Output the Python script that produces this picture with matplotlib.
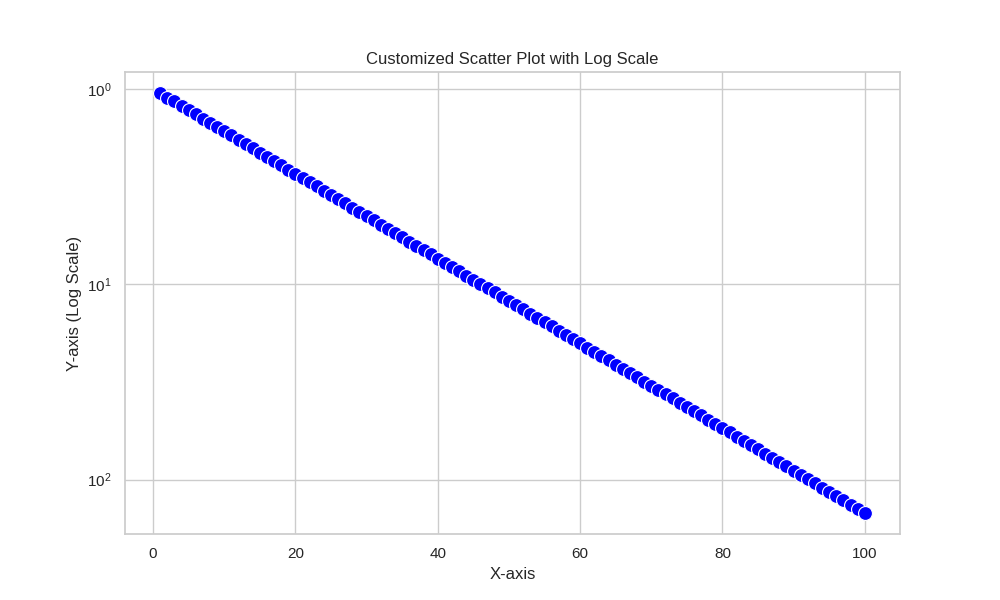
import matplotlib
matplotlib.use("Agg")
import matplotlib.pyplot as plt
import seaborn as sns

# x values 1..100, y (grows by ~5% per step)
x_vals = list(range(1, 101))
y_vals = [
    1.05, 1.11, 1.16, 1.22, 1.28, 1.35, 1.42, 1.49, 1.57, 1.65,
    1.73, 1.82, 1.92, 2.01, 2.12, 2.23, 2.34, 2.46, 2.59, 2.72,
    2.86, 3.00, 3.16, 3.32, 3.49, 3.67, 3.86, 4.06, 4.26, 4.48,
    4.71, 4.95, 5.21, 5.47, 5.75, 6.05, 6.36, 6.69, 7.03, 7.39,
    7.77, 8.17, 8.58, 9.03, 9.49, 9.97, 10.49, 11.02, 11.59, 12.18,
    12.81, 13.46, 14.15, 14.88, 15.64, 16.44, 17.29, 18.17, 19.11, 20.09,
    21.12, 22.20, 23.34, 24.53, 25.79, 27.11, 28.50, 29.96, 31.50, 33.12,
    34.81, 36.60, 38.47, 40.45, 42.52, 44.70, 46.99, 49.40, 51.94, 54.60,
    57.40, 60.34, 63.43, 66.69, 70.11, 73.70, 77.48, 81.45, 85.63, 90.02,
    94.63, 99.48, 104.59, 109.95, 115.58, 121.51, 127.74, 134.29, 141.18, 148.41,
]

sns.set_theme(style="whitegrid")
plt.rcParams["font.family"] = ["Liberation Sans", "DejaVu Sans"]

fig, ax = plt.subplots(figsize=(10, 6), dpi=100)
sns.scatterplot(x=x_vals, y=y_vals, color="blue", s=100, edgecolor="white", ax=ax)
ax.set_yscale("log")
ax.invert_yaxis()
ax.set_title("Customized Scatter Plot with Log Scale")
ax.set_xlabel("X-axis")
ax.set_ylabel("Y-axis (Log Scale)")

plt.savefig("out.png")
